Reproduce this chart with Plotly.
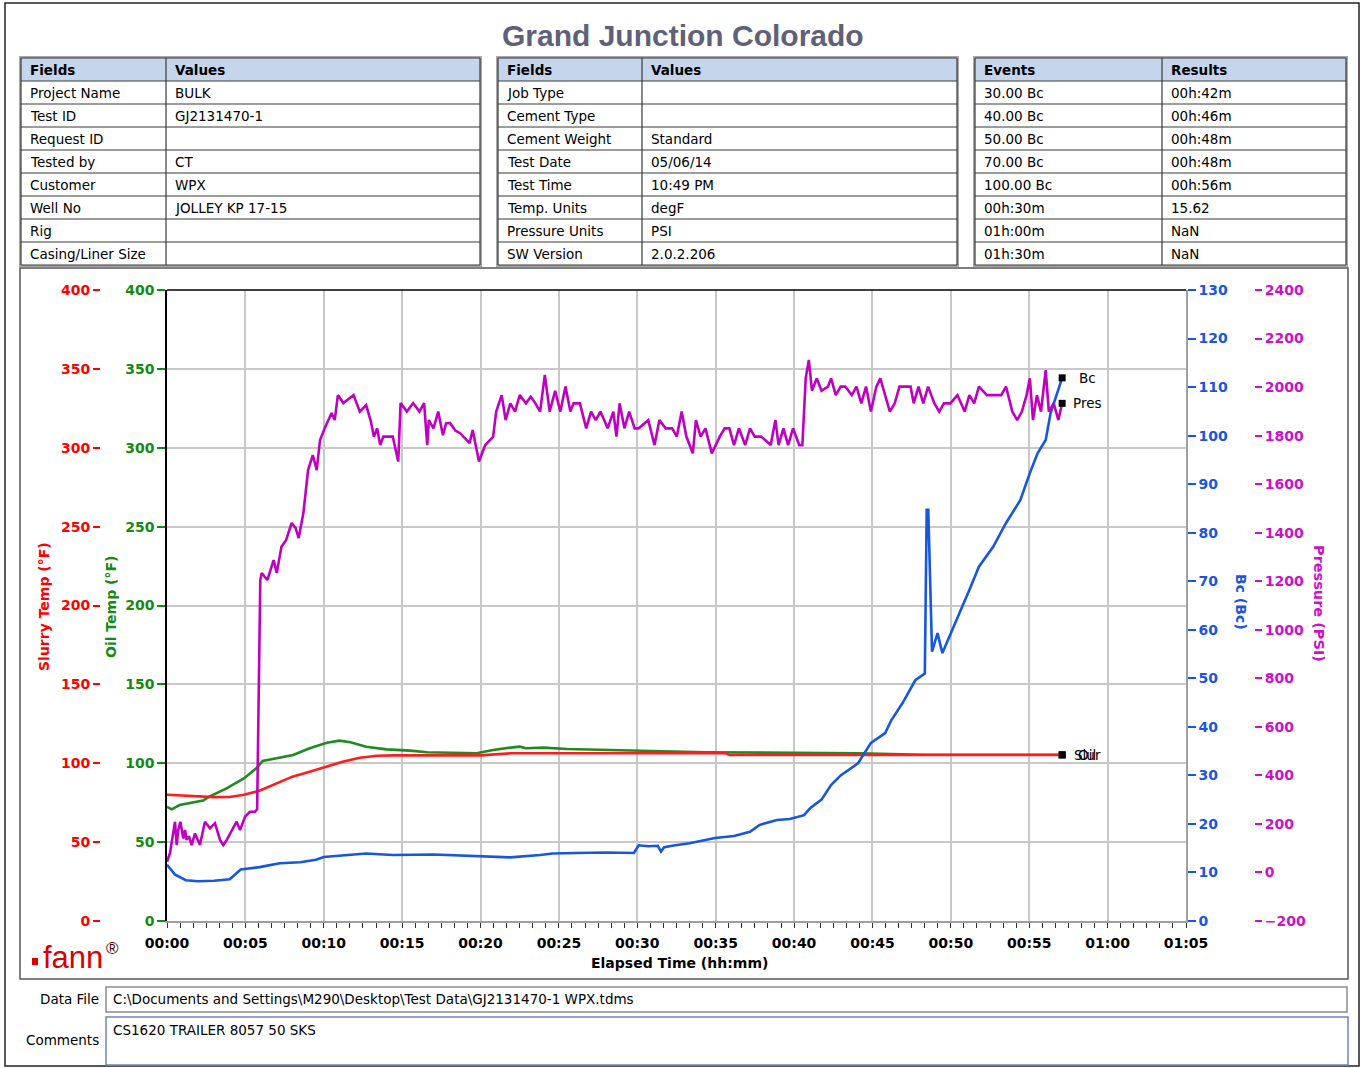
import plotly.graph_objects as go

W, H = 1364, 1068

# ---------------- data ----------------
title_text = "Grand Junction Colorado"

t1_fields = ["Project Name", "Test ID", "Request ID", "Tested by", "Customer", "Well No", "Rig", "Casing/Liner Size"]
t1_values = ["BULK", "GJ2131470-1", "", "CT", "WPX", "JOLLEY KP 17-15", "", ""]
t2_fields = ["Job Type", "Cement Type", "Cement Weight", "Test Date", "Test Time", "Temp. Units", "Pressure Units", "SW Version"]
t2_values = ["", "", "Standard", "05/06/14", "10:49 PM", "degF", "PSI", "2.0.2.206"]
t3_events = ["30.00 Bc", "40.00 Bc", "50.00 Bc", "70.00 Bc", "100.00 Bc", "00h:30m", "01h:00m", "01h:30m"]
t3_results = ["00h:42m", "00h:46m", "00h:48m", "00h:48m", "00h:56m", "15.62", "NaN", "NaN"]

x_tickvals = [0, 5, 10, 15, 20, 25, 30, 35, 40, 45, 50, 55, 60, 65]
x_ticktext = ["00:00", "00:05", "00:10", "00:15", "00:20", "00:25", "00:30",
              "00:35", "00:40", "00:45", "00:50", "00:55", "01:00", "01:05"]
temp_ticks = [0, 50, 100, 150, 200, 250, 300, 350, 400]
bc_ticks = [0, 10, 20, 30, 40, 50, 60, 70, 80, 90, 100, 110, 120, 130]
pres_ticks = [-200, 0, 200, 400, 600, 800, 1000, 1200, 1400, 1600, 1800, 2000, 2200, 2400]

# elapsed time in minutes
slurry_t = [0, 1, 2, 3, 4, 4.9, 5.9, 7, 8, 9.1, 10.2, 11.2, 12.3, 13.4, 14.5, 17, 20, 21.9,
            25, 30, 35.66, 35.87, 40, 45, 50, 57.1]
slurry_v = [80, 79.6, 79, 78.5, 78.6, 80, 82.6, 87.4, 91.5, 94.6, 97.8, 101, 103.5, 104.8, 105,
            105, 105, 106.3, 106.3, 106.3, 106.3, 105.2, 105.2, 105.2, 105.2, 105.2]

oil_t = [0, 0.3, 0.8, 2.3, 2.7, 3.8, 4.9, 5.7, 6.1, 7, 8.05, 9.1, 10.2, 11, 11.7, 12.7, 14,
         15.5, 16.6, 19.75, 20.8, 21.9, 22.5, 22.9, 24, 25.53, 29.4, 34.35, 44.08, 46.42, 48.3, 57.1]
oil_v = [72.4, 70.8, 73.5, 76.3, 78.8, 84.1, 90.4, 96.8, 101.4, 103.1, 105.2, 109.5, 113, 114.3,
         113.3, 110.5, 108.8, 108, 107, 106.3, 108.4, 109.9, 110.5, 109.5, 109.9, 109, 108, 107,
         106.3, 105.6, 105.4, 105.4]

bc_t = [0, 0.5, 1.2, 2, 3, 4, 4.7, 5.9, 7.2, 8.5,
        9.5, 10, 12.7, 14.4, 17, 20.8, 21.9, 23.8, 24.61, 26.03,
        28.06, 29.78, 30.09, 30.7, 31.31, 31.51, 31.71, 32.42, 33.33, 34.96,
        36.17, 37.19, 37.8, 38.91, 39.72, 40.64, 41.04, 41.75, 42.36, 42.97,
        44.08, 44.9, 45.81, 46.21, 46.92, 47.73, 48.34, 48.46, 48.56, 48.8,
        49.15, 49.46, 50.37, 51.18, 51.79, 52.7, 53.52, 54.43, 55.04, 55.54,
        56.05, 56.36, 57.1]
bc_v = [11.6, 9.6, 8.4, 8.2, 8.3, 8.6, 10.6, 11.1, 11.9, 12.1,
        12.6, 13.2, 13.9, 13.6, 13.7, 13.2, 13.1, 13.6, 13.9, 14.0,
        14.1, 14.0, 15.6, 15.4, 15.5, 14.3, 15.2, 15.6, 16.0, 17.1,
        17.5, 18.4, 19.8, 20.8, 21.0, 21.8, 23.3, 25.0, 28.0, 30.0,
        32.5, 36.7, 38.7, 41.4, 44.9, 49.6, 51.0, 84.7, 84.7, 55.5,
        59.3, 55.2, 62.0, 68.2, 73.0, 77.1, 82.0, 86.7, 92.3, 96.4,
        99.1, 104.6, 111.9]

pres_t = [0, 0.19, 0.51, 0.62, 0.72, 0.85, 1.04, 1.15, 1.25, 1.4,
          1.57, 1.79, 2.1, 2.42, 2.74, 3.06, 3.38, 3.59, 3.81, 4.13,
          4.44, 4.66, 4.98, 5.29, 5.61, 5.75, 5.95, 6.04, 6.4, 6.8,
          7.0, 7.3, 7.6, 7.95, 8.2, 8.4, 8.7, 9.0, 9.3, 9.55,
          9.76, 10.1, 10.5, 10.7, 10.9, 11.25, 11.6, 11.9, 12.3, 12.7,
          13.0, 13.2, 13.4, 13.6, 13.8, 14.1, 14.4, 14.75, 14.9, 15.3,
          15.7, 16.1, 16.4, 16.6, 16.7, 17.0, 17.3, 17.6, 17.8, 18.05,
          18.4, 18.7, 19.0, 19.3, 19.5, 19.9, 20.3, 20.8, 21.0, 21.35,
          21.6, 21.9, 22.2, 22.5, 22.9, 23.2, 23.5, 23.8, 24.1, 24.41,
          24.76, 25.09, 25.42, 25.73, 25.93, 26.34, 26.74, 27.05, 27.35, 27.65,
          28.11, 28.47, 28.67, 28.87, 29.18, 29.48, 29.83, 30.09, 30.7, 31.1,
          31.41, 31.81, 32.22, 32.52, 32.83, 33.13, 33.54, 33.74, 34.04, 34.35,
          34.75, 35.26, 35.57, 35.87, 36.17, 36.48, 36.88, 37.19, 37.49, 37.9,
          38.51, 38.81, 39.01, 39.32, 39.62, 39.93, 40.33, 40.53, 40.74, 40.94,
          41.14, 41.45, 41.75, 42.16, 42.36, 42.66, 42.97, 43.27, 43.68, 43.98,
          44.29, 44.59, 44.9, 45.25, 45.5, 45.81, 46.11, 46.42, 46.72, 47.13,
          47.43, 47.63, 47.94, 48.24, 48.55, 48.95, 49.26, 49.56, 49.97, 50.42,
          50.88, 51.18, 51.49, 51.79, 52.3, 52.81, 53.21, 53.52, 53.92, 54.23,
          54.53, 54.83, 55.04, 55.24, 55.49, 55.75, 56.05, 56.25, 56.56, 56.86,
          57.1]
pres_v = [44, 79, 209, 113, 175, 209, 140, 175, 134, 150,
          113, 161, 113, 209, 182, 203, 134, 113, 134, 175,
          209, 175, 230, 250, 250, 260, 1205, 1234, 1205, 1287,
          1234, 1342, 1370, 1440, 1420, 1378, 1481, 1658, 1720, 1658,
          1782, 1837, 1893, 1864, 1967, 1934, 1950, 1967, 1899, 1926,
          1860, 1795, 1830, 1761, 1796, 1796, 1796, 1693, 1934, 1899,
          1934, 1899, 1934, 1761, 1864, 1830, 1899, 1802, 1850, 1852,
          1820, 1810, 1790, 1769, 1823, 1693, 1761, 1795, 1899, 1967,
          1864, 1933, 1899, 1967, 1933, 1960, 1933, 1899, 2050, 1899,
          1985, 1899, 2002, 1899, 1933, 1933, 1830, 1899, 1864, 1899,
          1830, 1899, 1796, 1933, 1830, 1899, 1830, 1830, 1864, 1761,
          1864, 1830, 1830, 1796, 1899, 1796, 1727, 1864, 1796, 1830,
          1727, 1796, 1830, 1830, 1761, 1830, 1761, 1830, 1796, 1796,
          1761, 1864, 1761, 1830, 1761, 1830, 1761, 1761, 2036, 2112,
          1985, 2036, 1985, 2002, 2036, 1967, 2002, 2002, 1967, 2002,
          1933, 2002, 1899, 2002, 2036, 1967, 1899, 1933, 2002, 2002,
          2002, 1933, 2002, 1933, 2002, 1933, 1899, 1933, 1933, 1967,
          1899, 1967, 1933, 2002, 1967, 1967, 1967, 2002, 1899, 1864,
          1899, 1967, 2036, 1864, 1967, 1899, 2070, 1899, 1933, 1864,
          1933]

data_file = r"C:\Documents and Settings\M290\Desktop\Test Data\GJ2131470-1 WPX.tdms"
comments = "CS1620 TRAILER 8057 50 SKS"

# ---------------- styling ----------------
FONT = "DejaVu Sans"
RED_L, RED_T = "#ff1c1c", "#ff0000"
GRN_L, GRN_T = "#1f8a1f", "#138a13"
BLU_L, BLU_T = "#1656e0", "#1a55e0"
MAG_L, MAG_T = "#bf00bf", "#cc10cc"
GRID = "#c8c8c8"
HDR = "#c4d5ec"


def px(x):
    return x / W


def py(y):
    return 1 - y / H


def ann(text, x, y, size=13.5, color="black", bold=False, angle=0, xanchor="center",
        yanchor="middle", family=FONT):
    return dict(text=text, x=px(x), y=py(y), xref="paper", yref="paper", showarrow=False,
                xanchor=xanchor, yanchor=yanchor, textangle=angle,
                font=dict(family=family, size=size, color=color,
                          weight="bold" if bold else "normal"))


def pline(x0, y0, x1, y1, color, width=1):
    return dict(type="line", xref="paper", yref="paper", x0=px(x0), x1=px(x1),
                y0=py(y0), y1=py(y1), line=dict(color=color, width=width))


shapes = []
annotations = []


def add_table(c1, c2, h1, h2, x0, xs, x1, top=58, rh=23):
    n = len(c1)
    bottom = top + rh * (n + 1)
    shapes.append(dict(type="rect", xref="paper", yref="paper", x0=px(x0), x1=px(x1),
                       y0=py(top + rh), y1=py(top), fillcolor=HDR, line=dict(width=0),
                       layer="below"))
    shapes.append(dict(type="rect", xref="paper", yref="paper", x0=px(x0 - 1), x1=px(x1 + 1),
                       y0=py(bottom + 1), y1=py(top - 1), line=dict(color="#a8a8a8", width=2)))
    for k in range(n + 2):
        yy = top + rh * k
        if yy > bottom:
            break
        shapes.append(pline(x0, yy, x1, yy, "#3a3a3a", 1.2))
    shapes.append(pline(x0, top, x0, bottom, "#3a3a3a", 1.2))
    shapes.append(pline(xs, top, xs, bottom, "#3a3a3a", 1.2))
    shapes.append(pline(x1, top, x1, bottom, "#3a3a3a", 1.2))
    annotations.append(ann(h1, x0 + 7, top + rh / 2 + 0.5, bold=True, xanchor="left"))
    annotations.append(ann(h2, xs + 7, top + rh / 2 + 0.5, bold=True, xanchor="left"))
    for i in range(n):
        yc = top + rh * (i + 1) + rh / 2 + 0.5
        if c1[i]:
            annotations.append(ann(c1[i], x0 + 7, yc, xanchor="left"))
        if c2[i]:
            annotations.append(ann(c2[i], xs + 7, yc, xanchor="left"))


add_table(t1_fields, t1_values, "Fields", "Values", 21, 166, 480)
add_table(t2_fields, t2_values, "Fields", "Values", 498, 642, 957)
add_table(t3_events, t3_results, "Events", "Results", 975, 1162, 1346)

fig = go.Figure()

# series
fig.add_trace(go.Scatter(x=oil_t, y=oil_v, mode="lines", line=dict(color=GRN_L, width=2.6),
                         yaxis="y", hoverinfo="skip"))
fig.add_trace(go.Scatter(x=[oil_t[-1]], y=[oil_v[-1]], mode="markers",
                         marker=dict(symbol="square", size=7, color="black"), yaxis="y"))
fig.add_trace(go.Scatter(x=slurry_t, y=slurry_v, mode="lines", line=dict(color=RED_L, width=2.6),
                         yaxis="y2", hoverinfo="skip"))
fig.add_trace(go.Scatter(x=[slurry_t[-1]], y=[slurry_v[-1]], mode="markers",
                         marker=dict(symbol="square", size=7, color="black"), yaxis="y2"))
fig.add_trace(go.Scatter(x=bc_t, y=bc_v, mode="lines", line=dict(color=BLU_L, width=2.6),
                         yaxis="y3", hoverinfo="skip"))
fig.add_trace(go.Scatter(x=[bc_t[-1]], y=[bc_v[-1]], mode="markers",
                         marker=dict(symbol="square", size=7, color="black"), yaxis="y3"))
fig.add_trace(go.Scatter(x=pres_t, y=pres_v, mode="lines", line=dict(color=MAG_L, width=2.6),
                         yaxis="y4", hoverinfo="skip"))
fig.add_trace(go.Scatter(x=[pres_t[-1]], y=[pres_v[-1]], mode="markers",
                         marker=dict(symbol="square", size=7, color="black"), yaxis="y4"))

tick_font = lambda c: dict(family=FONT, size=14, color=c, weight="bold")
ydom = [py(921), py(290)]

fig.update_layout(
    template="none",
    width=W, height=H, autosize=False,
    margin=dict(l=0, r=0, t=0, b=0, pad=0),
    paper_bgcolor="white", plot_bgcolor="white", showlegend=False,
    xaxis=dict(domain=[px(167), px(1186)], range=[0, 65], tickmode="array",
               tickvals=x_tickvals, ticktext=x_ticktext, showgrid=True, gridcolor=GRID,
               gridwidth=1.5, showline=True, linecolor="#a0a0a0", linewidth=1.5,
               ticks="outside", ticklen=8, tickcolor="rgba(0,0,0,0)", zeroline=False,
               minor=dict(ticks="outside", dtick=5 / 6, tick0=0, ticklen=5, tickcolor="#333",
                          tickwidth=1, showgrid=False),
               tickfont=tick_font("black"), anchor="y", fixedrange=True, automargin=False),
    yaxis=dict(domain=ydom, range=[0, 400], tickmode="array", tickvals=temp_ticks,
               showgrid=True, gridcolor=GRID, gridwidth=1.5, showline=True, linecolor="black",
               linewidth=1.5, ticks="outside", ticklen=8, tickcolor=GRN_T, tickwidth=1.5,
               tickfont=tick_font(GRN_T), zeroline=False, anchor="x", fixedrange=True,
               automargin=False),
    yaxis2=dict(overlaying="y", anchor="free", position=px(100), side="left", range=[0, 400],
                tickmode="array", tickvals=temp_ticks, showgrid=False, showline=False,
                ticks="outside", ticklen=7, tickcolor=RED_T, tickwidth=1.5,
                tickfont=tick_font(RED_T), zeroline=False, fixedrange=True, automargin=False),
    yaxis3=dict(overlaying="y", anchor="x", side="right", range=[0, 130], tickmode="array",
                tickvals=bc_ticks, showgrid=False, showline=True, linecolor="#a0a0a0",
                linewidth=1.5, ticks="outside", ticklen=8, tickcolor=BLU_T, tickwidth=1.5,
                tickfont=tick_font(BLU_T), zeroline=False, fixedrange=True, automargin=False),
    yaxis4=dict(overlaying="y", anchor="free", position=px(1254), side="right",
                range=[-200, 2400], tickmode="array", tickvals=pres_ticks, showgrid=False,
                showline=False, ticks="outside", ticklen=7, tickcolor=MAG_T, tickwidth=1.5,
                tickfont=tick_font(MAG_T), zeroline=False, fixedrange=True, automargin=False),
)

shapes += [
    dict(type="rect", xref="paper", yref="paper", x0=px(5), x1=px(1359), y0=py(1066), y1=py(3),
         line=dict(color="#222", width=1.5)),
    dict(type="rect", xref="paper", yref="paper", x0=px(20), x1=px(1348), y0=py(979), y1=py(268),
         line=dict(color="#555", width=1.5)),
    pline(167, 290, 1186, 290, "black", 1.5),
    dict(type="rect", xref="paper", yref="paper", x0=px(32), x1=px(38), y0=py(965), y1=py(958),
         fillcolor="#e00000", line=dict(width=0)),
    dict(type="rect", xref="paper", yref="paper", x0=px(106), x1=px(1347), y0=py(1012), y1=py(987),
         line=dict(color="#8c8c8c", width=1.5)),
    dict(type="rect", xref="paper", yref="paper", x0=px(106), x1=px(1348), y0=py(1065), y1=py(1017),
         line=dict(color="#7186b8", width=1.5)),
]

annotations += [
    ann(title_text, 683, 35, size=30, color="#606078", bold=True, family="Liberation Sans"),
    ann("Slurry Temp (°F)", 44, 607, size=14, color=RED_T, bold=True, angle=-90),
    ann("Oil Temp (°F)", 111, 607, size=14, color=GRN_T, bold=True, angle=-90),
    ann("Bc (Bc)", 1241, 602, size=14, color=BLU_T, bold=True, angle=90),
    ann("Pressure (PSI)", 1319, 603, size=14.5, color=MAG_T, bold=True, angle=90),
    ann("Elapsed Time (hh:mm)", 679, 963, size=14, color="black", bold=True),
    ann("fann", 41, 957, size=31, color="#dd0000", xanchor="left", family="Liberation Sans"),
    ann("®", 104, 948, size=17, color="#550000", xanchor="left", family="Liberation Sans"),
    ann("Data File", 101, 999, xanchor="right"),
    ann("Comments", 101, 1040, xanchor="right"),
    ann(data_file, 111, 999, xanchor="left"),
    ann(comments, 111, 1030, xanchor="left"),
]

# end-of-series labels (Slur and Oil overlap in the original)
for label, xs, ys, yr in [("Bc", bc_t, bc_v, "y3"), ("Pres", pres_t, pres_v, "y4"),
                          ("Slur", slurry_t, slurry_v, "y2"), ("Oil", oil_t, oil_v, "y")]:
    annotations.append(dict(text=label, x=xs[-1], y=ys[-1], xref="x", yref=yr, showarrow=False,
                            xanchor="center", yanchor="middle", xshift=25,
                            font=dict(family=FONT, size=13.5, color="black")))

fig.update_layout(shapes=shapes, annotations=annotations)

fig.write_html("out.html", config={"displayModeBar": False},
               post_script="document.body.style.margin='0';document.body.style.overflow='hidden';")
